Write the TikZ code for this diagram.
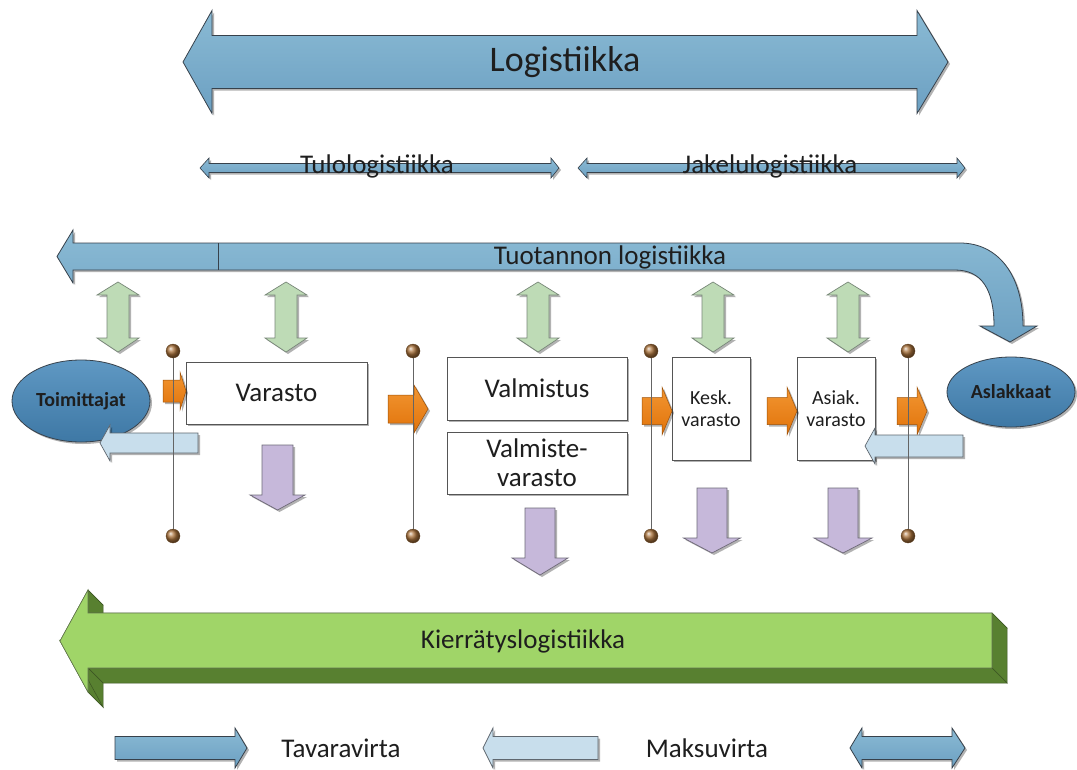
\documentclass[tikz,border=0pt]{standalone}
\usepackage{fontspec}
\setmainfont{Carlito}
\usetikzlibrary{shapes.geometric,shadows}
\definecolor{blueTop}{RGB}{138,186,212}
\definecolor{blueBot}{RGB}{108,160,194}
\definecolor{blueEdge}{RGB}{55,65,75}
\definecolor{lightBlue}{RGB}{200,222,236}
\definecolor{greenFill}{RGB}{190,219,182}
\definecolor{greenEdge}{RGB}{120,135,120}
\definecolor{purpFill}{RGB}{198,184,218}
\definecolor{purpEdge}{RGB}{110,105,120}
\definecolor{orangeA}{RGB}{242,150,50}
\definecolor{orangeB}{RGB}{225,115,10}
\definecolor{kLight}{RGB}{160,213,104}
\definecolor{kDark}{RGB}{88,128,48}
\definecolor{kEdge}{RGB}{60,85,35}
\definecolor{ellTop}{RGB}{95,152,195}
\definecolor{ellBot}{RGB}{62,120,165}
\definecolor{txt}{RGB}{30,30,30}
\definecolor{ballBrown}{RGB}{170,115,60}
\definecolor{lineGray}{RGB}{100,100,100}
\definecolor{boxEdge}{RGB}{85,85,85}

% horizontal single arrow: opts, tail, notch, tip, yc, s, h
\newcommand{\myHarrow}[7]{\path[#1] (#2,{#5-#6}) -- (#3,{#5-#6}) -- (#3,{#5-#7}) -- (#4,#5) -- (#3,{#5+#7}) -- (#3,{#5+#6}) -- (#2,{#5+#6}) -- cycle;}
% horizontal double arrow: opts, tipL, notchL, notchR, tipR, yc, s, h
\newcommand{\myHDarrow}[8]{\path[#1] (#2,#6) -- (#3,{#6-#8}) -- (#3,{#6-#7}) -- (#4,{#6-#7}) -- (#4,{#6-#8}) -- (#5,#6) -- (#4,{#6+#8}) -- (#4,{#6+#7}) -- (#3,{#6+#7}) -- (#3,{#6+#8}) -- cycle;}
% vertical down arrow: opts, xc, tail, notch, tip, s, h
\newcommand{\myVarrow}[7]{\path[#1] ({#2-#6},#3) -- ({#2-#6},#4) -- ({#2-#7},#4) -- (#2,#5) -- ({#2+#7},#4) -- ({#2+#6},#4) -- ({#2+#6},#3) -- cycle;}
% vertical double arrow: opts, xc, tipT, notchT, notchB, tipB, s, h
\newcommand{\myVDarrow}[8]{\path[#1] (#2,#3) -- ({#2+#8},#4) -- ({#2+#7},#4) -- ({#2+#7},#5) -- ({#2+#8},#5) -- (#2,#6) -- ({#2-#8},#5) -- ({#2-#7},#5) -- ({#2-#7},#4) -- ({#2-#8},#4) -- cycle;}

\tikzset{
  shad/.style={drop shadow={shadow xshift=2pt,shadow yshift=-2pt,opacity=0.3,fill=black}},
  bluearrow/.style={top color=blueTop,bottom color=blueBot,draw=blueEdge,line width=0.8pt,shad},
  lbarrow/.style={fill=lightBlue,draw=blueEdge!80,line width=0.7pt,shad},
  greenarrow/.style={fill=greenFill,draw=greenEdge,line width=0.7pt,shad},
  purparrow/.style={fill=purpFill,draw=purpEdge,line width=0.7pt,shad},
  orarrow/.style={top color=orangeA,bottom color=orangeB,draw=orangeB!70!black,line width=0.5pt,shad},
  procbox/.style={draw=boxEdge,fill=white,line width=0.9pt,inner sep=2pt,align=center,text=txt,shad},
  ell/.style={ellipse,draw=blueEdge,line width=0.8pt,top color=ellTop,bottom color=ellBot,inner sep=0pt,text=txt,font=\fontsize{20}{22}\selectfont\bfseries,shad},
  dot/.style={circle,inner sep=0pt,minimum size=14pt,ball color=ballBrown,draw=ballBrown!60!black,line width=0.3pt},
  lbl/.style={text=txt,inner sep=0pt},
  big/.style={font=\fontsize{27}{30}\selectfont},
  small/.style={font=\fontsize{20}{22}\selectfont}
}

\begin{document}
\begin{tikzpicture}[x=1pt,y=-1pt]
\useasboundingbox (0,0) rectangle (1077,769);
\fill[white] (0,0) rectangle (1077,769);

% Logistiikka
\myHDarrow{bluearrow}{183}{212}{917}{948}{62}{26.5}{51.5}
\node[lbl,font=\fontsize{36}{40}\selectfont] (logi) at (565,62) {Logistiikka};

% Tulo / Jakelu
\myHDarrow{bluearrow,line width=0.6pt}{200}{209}{551}{559}{168}{4.5}{10}
\node[lbl,big] (tulo) at (377,166) {Tulologistiikka};
\myHDarrow{bluearrow,line width=0.6pt}{578}{587}{957}{965}{168}{4.5}{10}
\node[lbl,big] (jakelu) at (770,166) {Jakelulogistiikka};

% Tuotannon logistiikka
\path[bluearrow] (73,243) -- (960,243) .. controls (998,243) and (1023,275) .. (1023,326)
  -- (1037,326) -- (1010,342) -- (980,326) -- (994,326)
  .. controls (994,290) and (982,270) .. (955,270)
  -- (73,270) -- (73,283) -- (57,256.5) -- (73,230) -- cycle;
\draw[blueEdge,line width=0.8pt] (218,243) -- (218,270);
\node[lbl,big] (tuot) at (610,257) {Tuotannon logistiikka};

% green double arrows
\foreach \xc in {118,286,538,713,848}{
  \myVDarrow{greenarrow}{\xc}{282}{295}{338}{352}{11}{21}
}

% purple down arrows
\myVarrow{purparrow}{277.5}{445}{495}{510}{15.5}{27.5}
\myVarrow{purparrow}{540}{508}{558}{575}{15}{28}
\myVarrow{purparrow}{712}{488}{538}{553}{15}{28.5}
\myVarrow{purparrow}{843}{488}{538}{553}{15}{29}

% boxes
\node[procbox,big,minimum width=181pt,minimum height=62pt] (varasto) at (276.5,393) {Varasto};
\node[procbox,big,minimum width=180pt,minimum height=63pt] (valmistus) at (537,388.5) {Valmistus};
\node[procbox,big,minimum width=180pt,minimum height=62pt,font=\fontsize{27}{29}\selectfont] (valmiste) at (537,463) {Valmiste-\\varasto};
\node[procbox,small,minimum width=78pt,minimum height=103pt] (kesk) at (711,408.5) {Kesk.\\varasto};
\node[procbox,small,minimum width=78pt,minimum height=103pt] (asiak) at (836,408.5) {Asiak.\\varasto};

% ellipses
\node[ell,minimum width=138pt,minimum height=82pt] (toim) at (81,401) {Toimittajat};
\node[ell,minimum width=128pt,minimum height=70pt] (asl) at (1011,392) {Aslakkaat};

% orange arrows
\myHarrow{orarrow}{163}{180}{186}{391}{11}{19}
\myHarrow{orarrow}{388}{414}{428}{409}{14}{24}
\myHarrow{orarrow}{642}{662}{672}{411}{13.5}{24}
\myHarrow{orarrow}{767}{787}{797}{411}{13.5}{24}
\myHarrow{orarrow}{897}{917}{927}{411}{13.5}{24}

% light blue arrows (payments)
\myHarrow{lbarrow}{198}{110}{100}{443}{10}{18}
\myHarrow{lbarrow}{963}{875}{865}{446}{11}{18}

% vertical lines with dots
\foreach \i/\xv in {1/173,2/413,3/651,4/908}{
  \node[dot] (t\i) at (\xv,351) {};
  \node[dot] (b\i) at (\xv,536) {};
  \draw[lineGray,line width=1pt] (t\i) -- (b\i);
}

% Kierratyslogistiikka 3D arrow
\foreach \ax/\ay/\bx/\by in {60/641/88/590, 88/590/88/613, 88/613/992/613, 992/613/992/668, 992/668/88/668, 88/668/88/692, 88/692/60/641}{
  \path[fill=kDark,draw=kEdge,line width=0.5pt] (\ax,\ay) -- (\bx,\by) -- ({\bx+15},{\by+15}) -- ({\ax+15},{\ay+15}) -- cycle;
}
\path[fill=kLight,draw=kEdge!80,line width=0.6pt] (60,641) -- (88,590) -- (88,613) -- (992,613) -- (992,668) -- (88,668) -- (88,692) -- cycle;
\node[lbl,big] (kier) at (523,641) {Kierrätyslogistiikka};

% legend
\myHarrow{bluearrow}{115}{235}{247}{748}{11.5}{20}
\node[lbl,big] (tava) at (341,748) {Tavaravirta};
\myHarrow{lbarrow}{598}{493}{483}{748}{11.5}{20}
\node[lbl,big] (maksu) at (707,748) {Maksuvirta};
\myHDarrow{bluearrow}{850}{862}{952}{965}{748}{11.5}{20}
\end{tikzpicture}
\end{document}
